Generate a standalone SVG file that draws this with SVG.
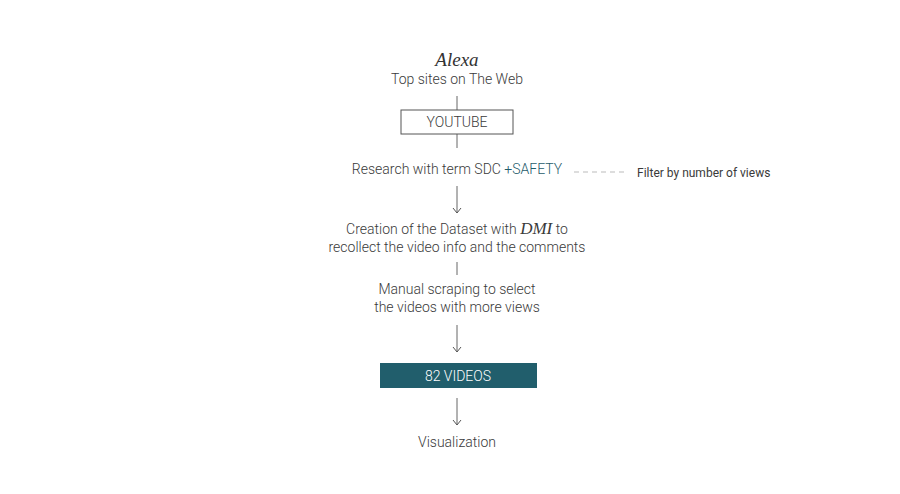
<svg xmlns="http://www.w3.org/2000/svg" width="900" height="494" viewBox="0 0 900 494">
<style>
.t{font-family:"Roboto","Liberation Sans",sans-serif;font-weight:300;font-size:14px;fill:#3a3a3a;text-anchor:middle}
.it{font-family:"Liberation Serif","DejaVu Serif",serif;font-style:italic;font-weight:400}
.ln{stroke:#666;stroke-width:1;fill:none}
.hl{fill:#1f5c6b}
</style>
<defs>
<marker id="ah" markerWidth="10" markerHeight="10" refX="8" refY="5" orient="auto" markerUnits="userSpaceOnUse">
<path d="M3,1 L8,5 L3,9" fill="none" stroke="#555" stroke-width="1"/>
</marker>
</defs>
<rect width="900" height="494" fill="#fff"/>
<g id="connectors">
<line class="ln" x1="457" y1="96" x2="457" y2="110"/>
<line class="ln" x1="457" y1="134" x2="457" y2="148"/>
<line x1="574" y1="172" x2="624" y2="172" stroke="#bbb" stroke-width="1" stroke-dasharray="5,4"/>
<line class="ln" x1="457" y1="186" x2="457" y2="213" marker-end="url(#ah)"/>
<line class="ln" x1="457" y1="262" x2="457" y2="275"/>
<line class="ln" x1="457" y1="325" x2="457" y2="352" marker-end="url(#ah)"/>
<line class="ln" x1="457" y1="398" x2="457" y2="425" marker-end="url(#ah)"/>
</g>
<g id="alexa">
<text class="t it" x="457" y="66" style="font-size:19px;fill:#333">Alexa</text>
<text class="t" x="457" y="84">Top sites on The Web</text>
</g>
<g id="youtube">
<rect x="401" y="110" width="112" height="24" fill="#fff" stroke="#555" stroke-width="1"/>
<text class="t" x="457" y="127">YOUTUBE</text>
</g>
<g id="research">
<text class="t" x="457" y="174">Research with term SDC <tspan class="hl" style="fill:#1f5c6b">+SAFETY</tspan></text>
</g>
<g id="filter">
<text class="t" x="637" y="177" style="text-anchor:start;font-size:12px;font-weight:400">Filter by number of views</text>
</g>
<g id="dataset">
<text class="t" x="457" y="234">Creation of the Dataset with <tspan class="it" style="font-size:17px">DMI</tspan> to</text>
<text class="t" x="457" y="252">recollect the video info and the comments</text>
</g>
<g id="manual">
<text class="t" x="457" y="294">Manual scraping to select</text>
<text class="t" x="457" y="312">the videos with more views</text>
</g>
<g id="videos">
<rect x="380" y="363" width="157" height="25" fill="#215e6c"/>
<text class="t" x="458" y="381" style="fill:#fff">82 VIDEOS</text>
</g>
<g id="visualization">
<text class="t" x="457" y="447">Visualization</text>
</g>
</svg>
